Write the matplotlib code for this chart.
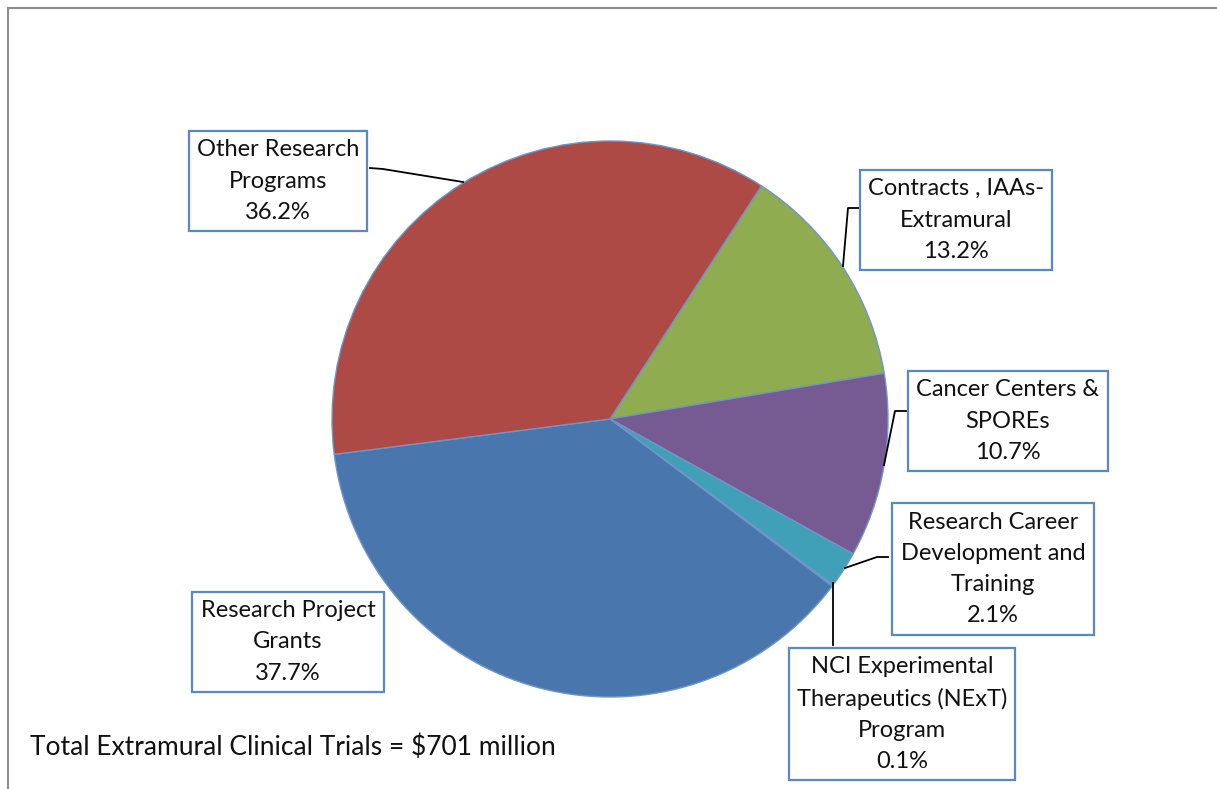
import matplotlib
matplotlib.use("Agg")
import matplotlib.pyplot as plt

plt.rcParams['font.family'] = ['Lato', 'DejaVu Sans']

# data
labels = ["Contracts , IAAs-\nExtramural",
          "Cancer Centers &\nSPOREs",
          "Research Career\nDevelopment and\nTraining",
          "NCI Experimental\nTherapeutics (NExT)\nProgram",
          "Research Project\nGrants",
          "Other Research\nPrograms"]
shares = [13.2, 10.7, 2.1, 0.1, 37.7, 36.2]
total_note = "Total Extramural Clinical Trials = $701 million"

colors = ["#8FAC51", "#765B93", "#40A0B8", "#7A9BC7", "#4A76AE", "#AE4A45"]

# layout in pixels (y from top)
W, H = 1217, 789
cx, cy, rad = 610, 419, 278
box_centers = [(956, 220), (1008, 421), (993, 569), (902, 714), (288, 642), (278, 181)]
leaders = [
    [(859, 208), (848, 208), (843, 266)],
    [(906, 411), (895, 411), (884, 465)],
    [(888, 557), (877, 557), (845, 568)],
    [(833, 645), (833, 583)],
    None,
    [(370, 168), (383, 169), (463, 182)],
]

fig = plt.figure(figsize=(W / 100, H / 100), dpi=100)
ax = fig.add_axes([0, 0, 1, 1])

ax.pie(shares, colors=colors, startangle=57, counterclock=False,
       center=(cx, H - cy), radius=rad,
       wedgeprops=dict(edgecolor='#6F95C9', linewidth=1.0))

for lab, val, (bx, by), ld in zip(labels, shares, box_centers, leaders):
    if ld:
        ax.plot([p[0] for p in ld], [H - p[1] for p in ld], color='black', lw=1.3)
    ax.text(bx, H - by, f"{lab}\n{val:.1f}%", ha='center', va='center',
            fontsize=17, linespacing=1.6, color='#111111',
            bbox=dict(boxstyle='square,pad=0.35', fc='white', ec='#5B87C5', lw=1.6))

ax.text(30, H - 747, total_note, ha='left', va='center', fontsize=19, color='#111111')

ax.set_xlim(0, W)
ax.set_ylim(0, H)
ax.set_aspect('equal')
ax.axis('off')

# frame lines of the original page
fig.add_artist(plt.Line2D([8 / W, 1], [1 - 8 / H, 1 - 8 / H], color='#8C8C8C', lw=1.5))
fig.add_artist(plt.Line2D([8 / W, 8 / W], [0, 1 - 8 / H], color='#8C8C8C', lw=1.5))

fig.savefig("out.png", dpi=100)
